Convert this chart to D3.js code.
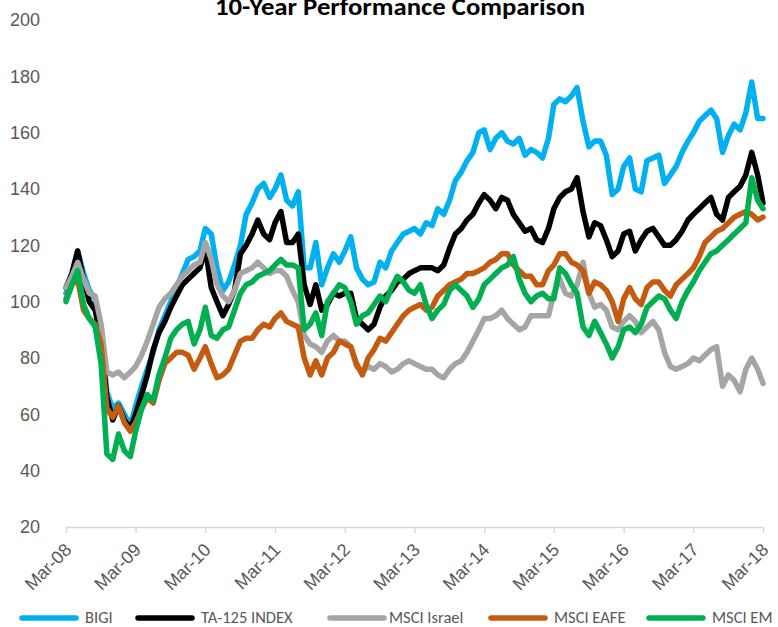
<!DOCTYPE html>
<html>
<head>
<meta charset="utf-8">
<script src="https://cdn.jsdelivr.net/npm/d3@7"></script>
<style>
  body { margin: 0; background: #fff; }
  svg { display: block; font-family: Carlito, Calibri, Lato, sans-serif; }
</style>
</head>
<body>
<div id="chart"></div>
<script>
// chart values (monthly, Mar-08 .. Mar-18)
const seriesNames = ["BIGI", "TA-125 INDEX", "MSCI Israel", "MSCI EAFE", "MSCI EM"];
const seriesColors = ["#00B0F0", "#000000", "#A5A5A5", "#C55A11", "#00B050"];

const bigi = [
  103,110,118,110,104,101,88,68,62,64,60,56,
  63,70,76,82,90,95,100,105,110,115,116,118,
  126,124,112,104,107,113,120,131,135,140,142,137,
  140,145,136,134,139,112,112,121,106,112,117,114,
  118,123,112,108,106,107,114,112,118,121,124,125,
  126,124,128,127,133,131,136,143,146,150,153,160,
  161,154,158,160,157,156,158,152,154,153,151,158,
  170,172,171,173,176,164,155,157,157,152,138,140,
  148,151,140,139,150,151,152,142,145,148,153,157,
  160,164,166,168,165,153,159,163,161,167,178,165,165
];
const ta125 = [
  105,110,118,108,100,97,86,66,58,63,58,55,
  60,67,74,83,89,93,98,102,106,108,110,112,
  119,105,100,95,99,104,117,120,124,129,124,122,
  128,132,121,121,124,106,99,106,97,99,103,102,
  103,103,94,92,90,92,98,102,104,107,108,110,
  111,112,112,112,111,113,119,124,126,129,131,135,
  138,136,133,137,136,131,128,125,126,122,121,126,
  133,137,139,140,144,132,123,128,127,122,116,118,
  124,125,118,122,125,126,123,120,120,122,125,129,
  131,133,135,137,131,129,137,139,141,145,153,145,135
];
const msciIsrael = [
  105,109,114,108,103,102,92,75,74,75,73,75,
  77,81,86,92,98,101,103,106,109,111,113,114,
  121,115,106,102,100,104,110,111,112,114,112,110,
  111,111,109,104,100,88,85,84,82,86,88,86,
  86,84,77,75,77,76,78,77,75,76,78,79,
  78,77,76,76,74,73,76,78,79,82,86,90,
  94,94,95,97,94,92,90,91,95,95,95,95,
  103,108,103,102,106,114,103,98,99,97,91,90,
  93,95,93,89,91,93,90,82,77,76,77,78,
  80,79,81,83,84,70,74,72,68,76,80,76,71
];
const msciEafe = [
  101,106,108,97,94,92,85,62,59,63,57,54,
  57,62,66,64,72,78,80,82,82,81,76,80,
  84,78,73,74,76,81,86,87,87,90,92,91,
  94,96,93,92,91,80,74,79,74,80,82,86,
  85,84,78,74,80,83,87,86,89,92,95,97,
  98,99,97,98,102,104,106,107,108,110,110,111,
  112,114,115,117,117,113,111,109,109,106,106,111,
  113,117,117,114,113,111,103,107,106,104,100,93,
  101,105,101,99,105,107,107,104,102,106,108,110,
  112,116,121,123,125,126,128,130,131,132,131,129,130
];
const msciEm = [
  100,106,111,99,94,91,78,46,44,53,47,45,
  54,62,67,65,74,80,87,90,92,93,85,90,
  98,88,87,90,91,97,103,106,107,109,110,111,
  113,115,113,113,112,90,92,96,88,100,103,106,
  105,100,92,95,96,99,102,100,105,109,107,104,
  103,106,99,94,97,99,104,106,104,102,98,101,
  106,108,110,112,113,116,108,103,100,102,103,101,
  101,112,110,106,103,91,88,93,89,85,80,84,
  90,91,89,92,98,100,102,101,97,94,100,104,
  107,111,114,117,118,120,122,124,126,128,144,136,133
];
const yTicks = [20, 40, 60, 80, 100, 120, 140, 160, 180, 200];
const xTickLabels = ["Mar-08","Mar-09","Mar-10","Mar-11","Mar-12","Mar-13",
                     "Mar-14","Mar-15","Mar-16","Mar-17","Mar-18"];

const width = 778, height = 627;
const plot = {left: 66, right: 763, top: 20, bottom: 527};

const svg = d3.select("#chart").append("svg")
    .attr("width", width)
    .attr("height", height);

const months = d3.timeMonth.range(new Date(2008, 2, 1), new Date(2018, 3, 1));

const x = d3.scaleTime()
    .domain([new Date(2008, 2, 1), new Date(2018, 2, 1)])
    .range([plot.left, plot.right]);
const y = d3.scaleLinear()
    .domain([20, 200])
    .range([plot.bottom, plot.top]);

// title (its top runs off the page, as in the original)
svg.append("text")
    .attr("x", 400)
    .attr("y", 15)
    .attr("text-anchor", "middle")
    .attr("font-weight", "bold")
    .attr("font-size", 24)
    .attr("textLength", 370)
    .attr("lengthAdjust", "spacingAndGlyphs")
    .attr("fill", "#000")
    .text("10-Year Performance Comparison");

// y axis labels only, no line
const yAxis = svg.append("g")
    .attr("transform", "translate(" + (plot.left - 26) + ",0)")
    .call(d3.axisLeft(y).tickValues(yTicks).tickSize(0).tickPadding(0));
yAxis.select(".domain").remove();
yAxis.selectAll("text")
    .attr("font-size", 18)
    .attr("font-family", null)
    .attr("fill", "#595959");

// x axis
const yearTicks = xTickLabels.map((d, i) => new Date(2008 + i, 2, 1));
const xAxis = svg.append("g")
    .attr("transform", "translate(0," + plot.bottom + ")")
    .call(d3.axisBottom(x).tickValues(yearTicks).tickSize(6)
        .tickFormat((d, i) => xTickLabels[i]));
xAxis.select(".domain")
    .attr("stroke", "#D9D9D9")
    .attr("stroke-width", 1.5)
    .attr("d", "M" + plot.left + ",0.5H" + plot.right);
xAxis.selectAll(".tick line").attr("stroke", "#D9D9D9").attr("stroke-width", 1.5);
xAxis.selectAll("text")
    .attr("font-size", 18)
    .attr("font-family", null)
    .attr("fill", "#595959")
    .attr("text-anchor", "end")
    .attr("dy", null)
    .attr("y", 0)
    .attr("transform", "translate(6,24) rotate(-45)");

// lines
const allSeries = [bigi, ta125, msciIsrael, msciEafe, msciEm];
const line = d3.line()
    .x((d, i) => x(months[i]))
    .y(d => y(d));

svg.append("g").selectAll("path")
    .data(allSeries)
    .join("path")
    .attr("d", line)
    .attr("fill", "none")
    .attr("stroke", (d, i) => seriesColors[i])
    .attr("stroke-width", 5.5)
    .attr("stroke-linejoin", "round")
    .attr("stroke-linecap", "round");

// legend
const legendX = [22, 138, 330, 491, 649];
const legend = svg.append("g").selectAll("g")
    .data(seriesNames)
    .join("g")
    .attr("transform", (d, i) => "translate(" + legendX[i] + ",618)");
legend.append("line")
    .attr("x1", 0).attr("x2", 54)
    .attr("stroke", (d, i) => seriesColors[i])
    .attr("stroke-width", 5.5)
    .attr("stroke-linecap", "round");
legend.append("text")
    .attr("x", (d, i) => i === 2 ? 59 : 63)
    .attr("y", 5)
    .attr("font-size", 16.5)
    .attr("fill", "#595959")
    .text(d => d);
</script>
</body>
</html>
